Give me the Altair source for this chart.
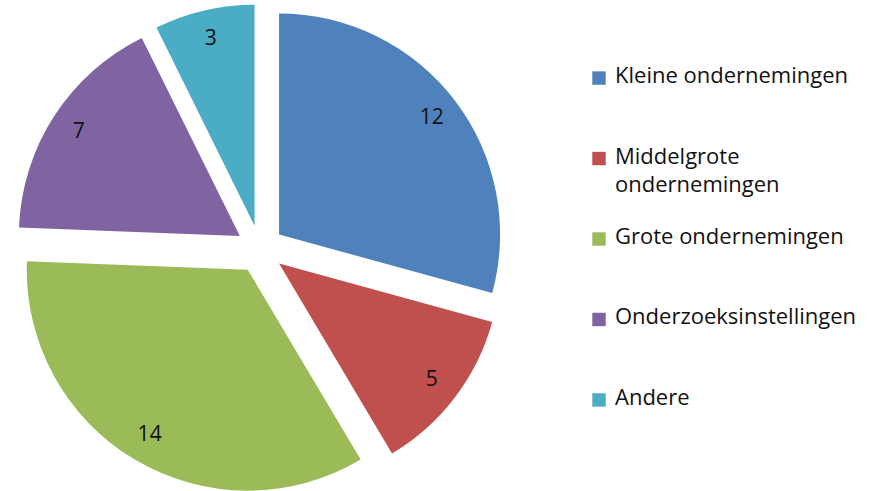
import altair as alt
import pandas as pd

# ---- data ----
categories = ["Kleine ondernemingen", "Middelgrote ondernemingen", "Grote ondernemingen",
              "Onderzoeksinstellingen", "Andere"]
values = [12, 5, 14, 7, 3]
legend_labels = ["Kleine ondernemingen", "Middelgrote\nondernemingen", "Grote ondernemingen",
                 "Onderzoeksinstellingen", "Andere"]
colors = ["#4F81BD", "#C0504D", "#9BBB59", "#8064A2", "#4BACC6"]

# ---- layout / style ----
PIE_W, PIE_H = 520, 491
LEG_W, LEG_H = 355, 478
R = 221          # pie radius (px)
EXPLODE = 24     # explosion distance (px)
LABEL_R = 192    # label distance from the slice apex (px)
CY_SHIFT = 3.5   # pie centre sits slightly below the middle
FONT = "Open Sans"
FS = 21
LEG_FS = 22

total = sum(values)
df = pd.DataFrame({"cat": categories, "value": values, "order": list(range(len(values))),
                   "legend": legend_labels})

color_scale = alt.Scale(domain=categories, range=colors)
xs = alt.Scale(domain=[-PIE_W / 2, PIE_W / 2])
ys = alt.Scale(domain=[-PIE_H / 2 + CY_SHIFT, PIE_H / 2 + CY_SHIFT])

base = alt.Chart(df).transform_window(
    cum="sum(value)", sort=[alt.SortField("order")], frame=[None, 0]
).transform_calculate(
    start="datum.cum - datum.value"
).transform_calculate(
    mid=f"(datum.cum - datum.value / 2) / {total} * 2 * PI"
).transform_calculate(
    ex=f"{EXPLODE} * sin(datum.mid)",
    ey=f"{EXPLODE} * cos(datum.mid)",
    lx=f"{EXPLODE + LABEL_R} * sin(datum.mid)",
    ly=f"{EXPLODE + LABEL_R} * cos(datum.mid)",
)

arcs = base.mark_arc(outerRadius=R).encode(
    theta=alt.Theta("start:Q", scale=alt.Scale(domain=[0, total])),
    theta2="cum:Q",
    x=alt.X("ex:Q", scale=xs, axis=None),
    y=alt.Y("ey:Q", scale=ys, axis=None),
    color=alt.Color("cat:N", scale=color_scale, legend=None),
)

labels = base.mark_text(font=FONT, fontSize=FS, color="#111111").encode(
    x=alt.X("lx:Q", scale=xs, axis=None),
    y=alt.Y("ly:Q", scale=ys, axis=None),
    text="value:Q",
)

pie = (arcs + labels).properties(width=PIE_W, height=PIE_H)

ly_enc = alt.Y("cat:N", scale=alt.Scale(type="point", domain=categories, padding=0.97),
               axis=None, sort=categories)

squares = alt.Chart(df).mark_square(size=180, opacity=1).encode(
    x=alt.value(79),
    y=ly_enc,
    color=alt.Color("cat:N", scale=color_scale, legend=None),
)

leg_text = alt.Chart(df).mark_text(
    align="left", baseline="top", dy=-12, lineBreak="\n", lineHeight=28,
    font=FONT, fontSize=LEG_FS, color="#111111",
).encode(
    x=alt.value(95),
    y=ly_enc,
    text="legend:N",
)

legend = (squares + leg_text).properties(width=LEG_W, height=LEG_H)

chart = alt.hconcat(pie, legend, spacing=0).properties(
    padding=0, background="white"
).configure_view(stroke=None).resolve_scale(color="shared")

chart.save("out.html", embed_options={"renderer": "svg", "actions": False})
